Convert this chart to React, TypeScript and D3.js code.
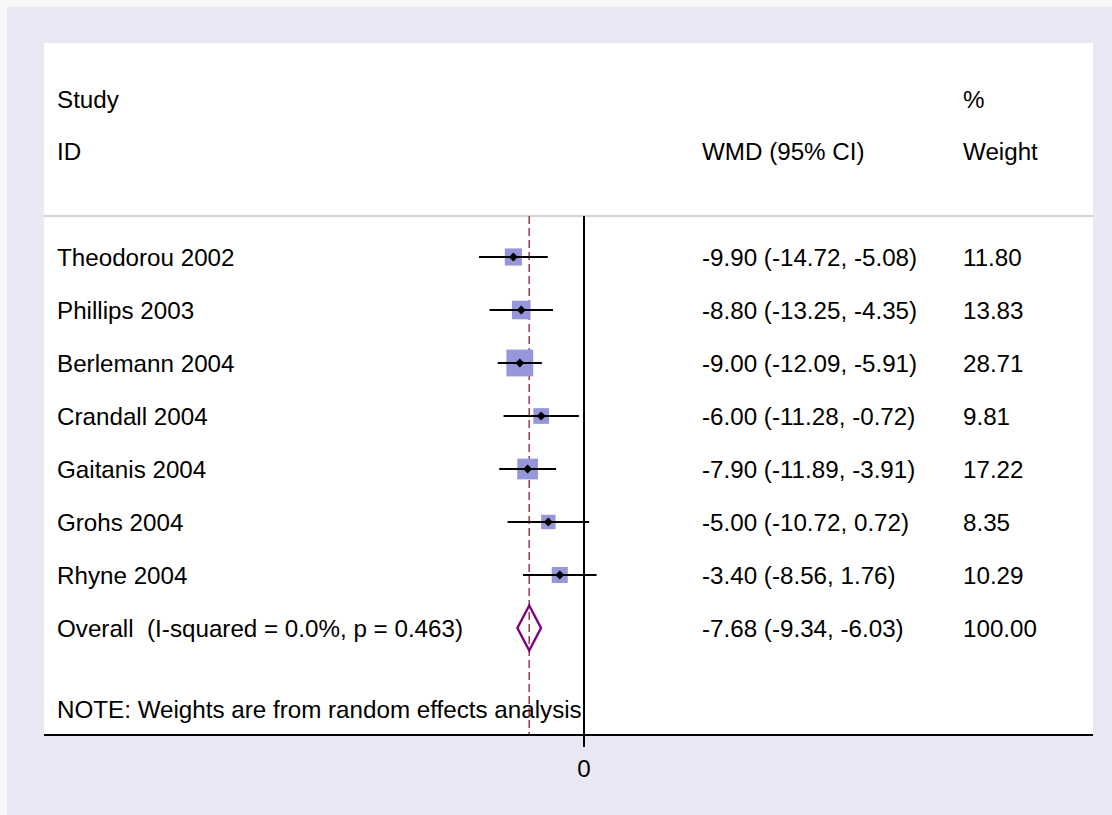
import React from "react";
import * as d3 from "d3";

const studies = [
  "Theodorou 2002",
  "Phillips 2003",
  "Berlemann 2004",
  "Crandall 2004",
  "Gaitanis 2004",
  "Grohs 2004",
  "Rhyne 2004",
];
const estimates = [-9.9, -8.8, -9.0, -6.0, -7.9, -5.0, -3.4];
const lowers = [-14.72, -13.25, -12.09, -11.28, -11.89, -10.72, -8.56];
const uppers = [-5.08, -4.35, -5.91, -0.72, -3.91, 0.72, 1.76];
const weights = [11.8, 13.83, 28.71, 9.81, 17.22, 8.35, 10.29];
const ciLabels = [
  "-9.90 (-14.72, -5.08)",
  "-8.80 (-13.25, -4.35)",
  "-9.00 (-12.09, -5.91)",
  "-6.00 (-11.28, -0.72)",
  "-7.90 (-11.89, -3.91)",
  "-5.00 (-10.72, 0.72)",
  "-3.40 (-8.56, 1.76)",
];
const weightLabels = ["11.80", "13.83", "28.71", "9.81", "17.22", "8.35", "10.29"];
const overall = { est: -7.68, lo: -9.34, hi: -6.03 };
const overallLabel = "Overall  (I-squared = 0.0%, p = 0.463)";
const overallCI = "-7.68 (-9.34, -6.03)";
const overallWeight = "100.00";
const xTicks = [0];

const W = 1112;
const H = 815;
const FONT = "'Liberation Sans', Arial, Helvetica, sans-serif";
const FS = 24.2;

export default function App() {
  const plotL = 44, plotR = 1093, plotT = 43, axisY = 735, gridY = 216;
  const x = d3.scaleLinear().domain([-14.72, 14.72]).range([479, 689]);
  const y = d3.scaleLinear().domain([0, 7]).range([257, 628]);
  const base = (c: number) => c + FS * 0.36;
  const boxK = 5.0;
  const diamondH = 22.5;

  const diamondPath = d3.line()([
    [x(overall.lo), y(7)],
    [x(overall.est), y(7) - diamondH],
    [x(overall.hi), y(7)],
    [x(overall.est), y(7) + diamondH],
  ]) + "Z";

  const textStyle = { fontFamily: FONT, fontSize: FS, fill: "#000", whiteSpace: "pre" } as const;

  return (
    <div style={{ position: "absolute", left: 0, top: 0 }}>
      <svg width={W} height={H} style={{ display: "block" }}>
        <rect x={0} y={0} width={W} height={H} fill="#f7f9f9" />
        <rect x={7} y={7} width={W - 7} height={H - 7} fill="#e8e8f5" />
        <rect x={plotL} y={plotT} width={plotR - plotL} height={axisY - plotT} fill="#ffffff" />

        {/* header */}
        <text x={57} y={base(99)} style={textStyle}>Study</text>
        <text x={57} y={base(151)} style={textStyle}>ID</text>
        <text x={702} y={base(151)} style={textStyle}>WMD (95% CI)</text>
        <text x={963} y={base(99)} style={textStyle}>%</text>
        <text x={963} y={base(151)} style={textStyle}>Weight</text>

        <line x1={plotL} x2={plotR} y1={gridY} y2={gridY} stroke="#c4c4c4" strokeWidth={1.5} />

        {/* reference lines */}
        <line x1={x(0)} x2={x(0)} y1={gridY} y2={axisY} stroke="#000" strokeWidth={2} />
        <line
          x1={x(overall.est)}
          x2={x(overall.est)}
          y1={gridY}
          y2={axisY}
          stroke="#a4424f"
          strokeWidth={1.6}
          strokeDasharray="8 4"
        />

        {/* studies */}
        {studies.map((s, i) => {
          const side = boxK * Math.sqrt(weights[i]);
          const cx = x(estimates[i]);
          const cy = y(i);
          return (
            <g key={s}>
              <rect x={cx - side / 2} y={cy - side / 2} width={side} height={side} fill="#9696da" />
              <line x1={x(lowers[i])} x2={x(uppers[i])} y1={cy} y2={cy} stroke="#000" strokeWidth={2.2} />
              <path
                d={`M${cx - 4.5},${cy} L${cx},${cy - 4.5} L${cx + 4.5},${cy} L${cx},${cy + 4.5} Z`}
                fill="#000"
              />
              <text x={57} y={base(cy)} style={textStyle}>{s}</text>
              <text x={702} y={base(cy)} style={textStyle}>{ciLabels[i]}</text>
              <text x={963} y={base(cy)} style={textStyle}>{weightLabels[i]}</text>
            </g>
          );
        })}

        {/* overall */}
        <path d={diamondPath} fill="none" stroke="#800080" strokeWidth={2.4} />
        <text x={57} y={base(y(7))} style={textStyle} xmlSpace="preserve">{overallLabel}</text>
        <text x={702} y={base(y(7))} style={textStyle}>{overallCI}</text>
        <text x={963} y={base(y(7))} style={textStyle}>{overallWeight}</text>

        <text x={57} y={base(709)} style={textStyle}>NOTE: Weights are from random effects analysis</text>

        {/* axis */}
        <line x1={plotL} x2={plotR} y1={axisY} y2={axisY} stroke="#000" strokeWidth={2} />
        {xTicks.map((t) => (
          <g key={t}>
            <line x1={x(t)} x2={x(t)} y1={axisY} y2={axisY + 12} stroke="#000" strokeWidth={2} />
            <text x={x(t)} y={base(768)} textAnchor="middle" style={textStyle}>{t}</text>
          </g>
        ))}
      </svg>
    </div>
  );
}
